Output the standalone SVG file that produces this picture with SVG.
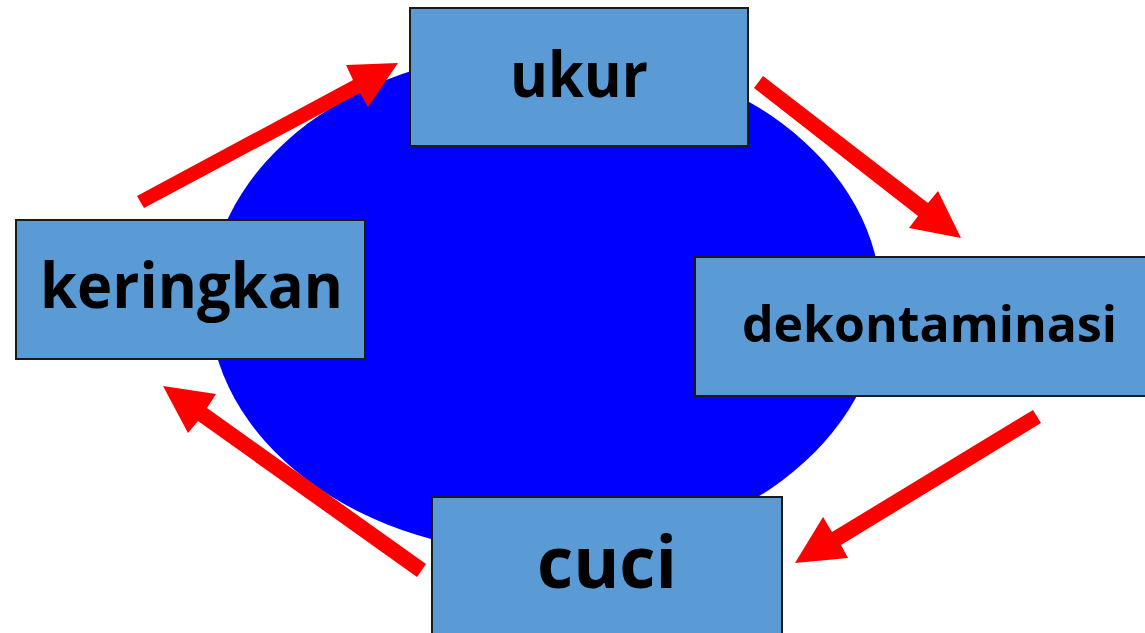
<svg xmlns="http://www.w3.org/2000/svg" width="1145" height="633" viewBox="0 0 1145 633">
<style>
.box{fill:#5B9BD5;stroke:#1a1a1a;stroke-width:2}
.lbl{font-family:"Open Sans","Noto Sans",sans-serif;font-weight:bold;fill:#000;text-anchor:middle}
.arr{fill:#FF0000}
</style>
<rect width="1145" height="633" fill="#fff"/>
<ellipse id="hub" cx="545" cy="302" rx="336" ry="252" fill="#0000FF"/>
<g id="connectors">
<polygon class="arr" points="137,196 353,80 346,65 398,63 368,107 360,93 144,208"/>
<polygon class="arr" points="763,76 928,203 938,191 961,238 909,228 918,216 754,88"/>
<polygon class="arr" points="1033,410 832,532 823,517 795,563 848,558 841,545 1041,423"/>
<polygon class="arr" points="426,564 207,408 216,394 163,386 188,433 198,421 417,577"/>
</g>
<g id="ukur">
<rect class="box" x="410" y="8" width="338" height="138"/>
<text class="lbl" x="579" y="97" font-size="62" textLength="138" lengthAdjust="spacingAndGlyphs">ukur</text>
</g>
<g id="dekontaminasi">
<rect class="box" x="695" y="257" width="460" height="139"/>
<text class="lbl" x="929.5" y="342" font-size="50" textLength="375" lengthAdjust="spacingAndGlyphs">dekontaminasi</text>
</g>
<g id="cuci">
<rect class="box" x="432" y="497" width="350" height="150"/>
<text class="lbl" x="607" y="588" font-size="72" textLength="140" lengthAdjust="spacingAndGlyphs">cuci</text>
</g>
<g id="keringkan">
<rect class="box" x="16" y="220" width="349" height="139"/>
<text class="lbl" x="191.5" y="308" font-size="62" textLength="303" lengthAdjust="spacingAndGlyphs">keringkan</text>
</g>
</svg>
